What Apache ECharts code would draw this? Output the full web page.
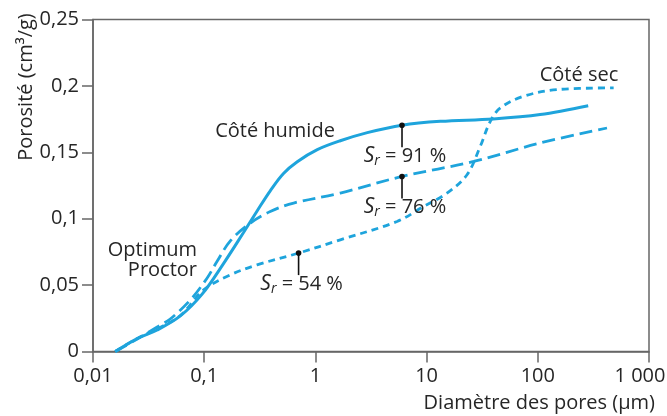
<!DOCTYPE html>
<html><head><meta charset="utf-8">
<script src="https://cdn.jsdelivr.net/npm/echarts@6/dist/echarts.min.js"></script>
<style>html,body{margin:0;padding:0;background:#fff}#c{width:667px;height:416px}</style>
</head><body><div id="c"></div>
<script>
// ---- data ----
const humideX = [0.01586, 0.025, 0.0378, 0.061, 0.0962, 0.1486, 0.225, 0.300, 0.3926, 0.514, 0.687, 1.04, 1.675, 2.93, 6.01, 13.3, 39.8, 105, 284];
const humideY = [0, 0.0098, 0.0162, 0.0268, 0.0434, 0.066, 0.0894, 0.106, 0.121, 0.1339, 0.1429, 0.152, 0.1587, 0.1648, 0.1704, 0.1733, 0.1751, 0.1784, 0.1851];

const sr76X = [0.01586, 0.025, 0.0378, 0.0495, 0.075, 0.106, 0.1303, 0.1718, 0.26, 0.3926, 0.637, 1.675, 6.01, 26.5, 105, 419];
const sr76Y = [0, 0.0094, 0.0185, 0.0245, 0.0388, 0.0552, 0.0677, 0.0833, 0.0967, 0.1054, 0.1118, 0.1193, 0.1318, 0.1431, 0.157, 0.1683];

const secX = [0.01586, 0.025, 0.0378, 0.061, 0.0988, 0.1718, 0.2985, 0.706, 1.675, 5.42, 9.4, 15.25, 23.1, 30.4, 37.4, 46, 74.5, 149, 481];
const secY = [0, 0.0098, 0.017, 0.0271, 0.0464, 0.0577, 0.0652, 0.0741, 0.0841, 0.0979, 0.1092, 0.1193, 0.1331, 0.1545, 0.1733, 0.1834, 0.1922, 0.1972, 0.1985];

const markerX = [6.01, 6.01, 0.706];
const markerY = [0.1704, 0.1318, 0.0741];
const markerLabels = ['91', '76', '54'];

const xTickValues = [0.01, 0.1, 1, 10, 100, 1000];
const xTickLabels = ['0,01', '0,1', '1', '10', '100', '1 000'];
const yTickLabels = ['0', '0,05', '0,1', '0,15', '0,2', '0,25'];

const xAxisTitle = 'Diamètre des pores (µm)';
const yAxisTitle = 'Porosité (cm³/g)';
const annHumide = 'Côté humide';
const annSec = 'Côté sec';
const annOptimum = ['Optimum', 'Proctor'];

// ---- styles ----
const FONT = '"Open Sans", sans-serif';
const BLUE = '#1ea4dc';
const AXIS = '#676767';
const TXT = '#262626';
const FS = 20;

const pairs = (xs, ys) => xs.map((x, i) => [x, ys[i]]);

const chart = echarts.init(document.getElementById('c'), null, {renderer: 'canvas'});
chart.setOption({
  animation: false,
  backgroundColor: '#fff',
  grid: {left: 93, right: 18, top: 19.5, bottom: 64.5, outerBoundsMode: 'none', containLabel: false,
    show: true, borderColor: AXIS, borderWidth: 1.5, backgroundColor: 'transparent'},
  xAxis: {
    type: 'log', logBase: 10, min: 0.01, max: 1000,
    axisLine: {show: true, lineStyle: {color: AXIS, width: 1.5}},
    axisTick: {show: true, length: 11, lineStyle: {color: AXIS, width: 1.5}},
    splitLine: {show: false},
    minorTick: {show: false},
    axisLabel: {
      margin: 15, color: TXT, fontSize: FS, fontFamily: FONT,
      showMaxLabel: true, showMinLabel: true,
      formatter: v => {
        const k = Math.round(Math.log10(v)) + 2;
        if (xTickLabels[k] === undefined) return '';
        return k === xTickLabels.length - 1 ? '{last|' + xTickLabels[k] + '}' : xTickLabels[k];
      },
      rich: {last: {fontSize: FS, fontFamily: FONT, color: TXT, padding: [0, 18, 0, 0]}}
    }
  },
  yAxis: {
    type: 'value', min: 0, max: 0.25, interval: 0.05,
    axisLine: {show: true, lineStyle: {color: AXIS, width: 1.5}},
    axisTick: {show: true, length: 11, lineStyle: {color: AXIS, width: 1.5}},
    splitLine: {show: false},
    axisLabel: {
      margin: 14, color: TXT, fontSize: FS, fontFamily: FONT,
      formatter: v => yTickLabels[Math.round(v / 0.05)]
    }
  },
  series: [
    {type: 'line', data: pairs(secX, secY), showSymbol: false, smooth: 0.35,
      lineStyle: {color: BLUE, width: 2.8, type: [7, 5]}, z: 2},
    {type: 'line', data: pairs(sr76X, sr76Y), showSymbol: false, smooth: 0.35,
      lineStyle: {color: BLUE, width: 2.8, type: [13, 6]}, z: 2},
    {type: 'line', data: pairs(humideX, humideY), showSymbol: false, smooth: 0.35,
      lineStyle: {color: BLUE, width: 3}, z: 3},
    {type: 'custom', z: 5,
      data: markerX.map((x, i) => [x, markerY[i], i]),
      renderItem: (params, api) => {
        const p = api.coord([api.value(0), api.value(1)]);
        const i = api.value(2);
        return {type: 'group', children: [
          {type: 'line', shape: {x1: p[0], y1: p[1], x2: p[0], y2: p[1] + 22}, style: {stroke: '#111', lineWidth: 1.6}},
          {type: 'circle', shape: {cx: p[0], cy: p[1], r: 2.8}, style: {fill: '#111'}},
          {type: 'text', x: p[0] + 3, y: p[1] + 19, style: {
            text: '{s|S}{r|r}{n| = ' + markerLabels[i] + ' %}',
            align: 'center', verticalAlign: 'top',
            rich: {
              s: {fontStyle: 'italic', fontSize: 21, fontFamily: FONT, fill: TXT, color: TXT, lineHeight: 24},
              r: {fontStyle: 'italic', fontSize: 14, fontFamily: FONT, fill: TXT, color: TXT, lineHeight: 10, verticalAlign: 'bottom'},
              n: {fontSize: FS, fontFamily: FONT, fill: TXT, color: TXT, lineHeight: 24}
            }
          }}
        ]};
      }
    }
  ],
  graphic: [
    {type: 'text', x: 275, y: 131, style: {text: annHumide, font: FS + 'px ' + FONT, fill: TXT, align: 'center', verticalAlign: 'middle'}},
    {type: 'text', x: 579, y: 75.5, style: {text: annSec, font: FS + 'px ' + FONT, fill: TXT, align: 'center', verticalAlign: 'middle'}},
    {type: 'text', x: 197, y: 250.5, style: {text: annOptimum[0], font: FS + 'px ' + FONT, fill: TXT, align: 'right', verticalAlign: 'middle'}},
    {type: 'text', x: 197, y: 270.5, style: {text: annOptimum[1], font: FS + 'px ' + FONT, fill: TXT, align: 'right', verticalAlign: 'middle'}},
    {type: 'text', x: 655, y: 403, style: {text: xAxisTitle, font: FS + 'px ' + FONT, fill: TXT, align: 'right', verticalAlign: 'middle'}},
    {type: 'text', x: 26, y: 87, rotation: Math.PI / 2, style: {text: yAxisTitle, font: FS + 'px ' + FONT, fill: TXT, align: 'center', verticalAlign: 'middle'}}
  ]
});
</script>
</body></html>
